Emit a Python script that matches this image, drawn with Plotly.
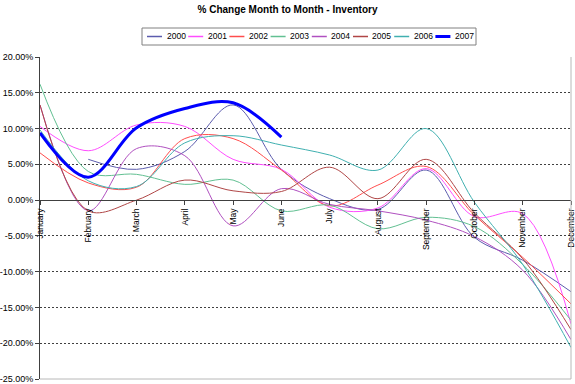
import plotly.graph_objects as go

months = ["January", "February", "March", "April", "May", "June",
          "July", "August", "September", "October", "November", "December"]

s2000 = [None, 5.7, 4.3, 6.8, 13.3, 4.3, 0.2, -1.3, 4.2, -5.2, -8.4, -12.8]
s2001 = [10.3, 6.9, 10.5, 10.3, 5.7, 4.3, -1.0, -1.1, 4.4, -2.3, -1.9, -17.3]
s2002 = [6.6, 2.4, 1.8, 8.6, 8.6, 4.2, -0.8, 2.1, 4.7, -2.1, -8.0, -14.5]
s2003 = [16.2, 4.0, 3.6, 2.2, 2.8, -1.5, -0.7, -4.0, -2.4, -3.7, -9.0, -16.8]
s2004 = [13.3, -1.5, 7.2, 6.2, -3.6, 1.6, -0.6, -1.5, -2.8, -5.1, -9.8, -19.5]
s2005 = [13.3, -1.5, 0.0, 2.8, 1.3, 1.2, 4.6, 0.2, 5.7, -1.8, -8.2, -18.1]
s2006 = [9.8, 2.7, 1.9, 8.0, 9.0, 7.7, 6.3, 4.2, 10.0, -0.3, -9.0, -20.6]
s2007 = [9.4, 3.2, 10.1, 12.8, 13.6, 8.8, None, None, None, None, None, None]

series_names = ["2000", "2001", "2002", "2003", "2004", "2005", "2006", "2007"]
series_values = [s2000, s2001, s2002, s2003, s2004, s2005, s2006, s2007]
series_colors = ["#5c5cae", "#ff4dff", "#ff4d4d", "#62c092", "#b050c0",
                 "#b04646", "#40b0b0", "#0000ff"]
series_widths = [1, 1, 1, 1, 1, 1, 1, 3]

y_tick_vals = [20, 15, 10, 5, 0, -5, -10, -15, -20, -25]
y_tick_labels = ["20.00%", "15.00%", "10.00%", "5.00%", "0.00%", "-5.00%",
                 "-10.00%", "-15.00%", "-20.00%", "-25.00%"]
y_grid_vals = [v for v in y_tick_vals if v not in (20, 0, -25)]

FONT = "Liberation Sans, Arial, sans-serif"
W, H = 575, 384
PL, PR, PT, PB = 40, 571, 57, 379


def fx(px):
    return (px - PL) / (PR - PL)


def fy(py):
    return (PB - py) / (PB - PT)


fig = go.Figure()
for name, vals, col, wd in zip(series_names, series_values, series_colors, series_widths):
    fig.add_trace(go.Scatter(
        x=months, y=vals, name=name, mode="lines",
        line=dict(color=col, width=wd, shape="spline", smoothing=1.0),
        showlegend=False,
    ))

shapes = [
    dict(type="line", xref="paper", yref="paper", x0=0, x1=1, y0=0, y1=0,
         line=dict(color="#b8b8b8", width=1)),
    dict(type="line", xref="paper", yref="paper", x0=1, x1=1, y0=0, y1=1,
         line=dict(color="#b8b8b8", width=1)),
    dict(type="rect", xref="paper", yref="paper", x0=fx(142), x1=fx(476),
         y0=fy(45), y1=fy(28), line=dict(color="#808080", width=1),
         fillcolor="rgba(0,0,0,0)"),
]
annotations = []
for i, (name, col, wd) in enumerate(zip(series_names, series_colors, series_widths)):
    x0 = 147 + 41.2 * i
    shapes.append(dict(type="line", xref="paper", yref="paper",
                       x0=fx(x0), x1=fx(x0 + 15), y0=fy(36.5), y1=fy(36.5),
                       line=dict(color=col, width=wd + 0.5 if wd == 1 else wd)))
    annotations.append(dict(xref="paper", yref="paper", x=fx(x0 + 17.5), y=fy(36.5),
                            text=name, showarrow=False, xanchor="left", yanchor="middle",
                            font=dict(family=FONT, size=8.5, color="#000000")))

fig.update_layout(
    width=W, height=H,
    margin=dict(l=PL, r=W - PR, t=PT, b=H - PB),
    paper_bgcolor="#ffffff", plot_bgcolor="#ffffff",
    title=dict(text="<b>% Change Month to Month - Inventory</b>", x=0.5, xanchor="center",
               y=1 - 9.5 / H, yanchor="middle",
               font=dict(family=FONT, size=10, color="#000000")),
    font=dict(family=FONT, color="#000000"),
    shapes=shapes,
    annotations=annotations,
    showlegend=False,
)
fig.update_xaxes(
    type="category", categoryorder="array", categoryarray=months,
    range=[0, len(months) - 1],
    anchor="free", position=25 / 45, side="bottom",
    showline=True, linecolor="#404040", linewidth=1,
    ticks="outside", ticklen=4, tickcolor="#404040",
    tickangle=-90, tickfont=dict(family=FONT, size=8.5, color="#000000"),
    ticklabeloverflow="allow",
    showgrid=False, zeroline=False, automargin=False,
)
fig.update_yaxes(
    range=[-25, 20], tickvals=y_tick_vals, ticktext=y_tick_labels,
    showline=True, linecolor="#404040", linewidth=1,
    ticks="outside", ticklen=4, tickcolor="#404040",
    tickfont=dict(family=FONT, size=9, color="#000000"),
    ticklabeloverflow="allow",
    showgrid=False,
    minor=dict(tickmode="array", tickvals=y_grid_vals, showgrid=True,
               gridcolor="#404040", gridwidth=1, griddash="2px,2px", ticks=""),
    zeroline=False, automargin=False,
)

fig.write_html("out.html",
               config={"displayModeBar": False},
               post_script="document.body.style.margin='0';document.body.style.overflow='hidden';")
